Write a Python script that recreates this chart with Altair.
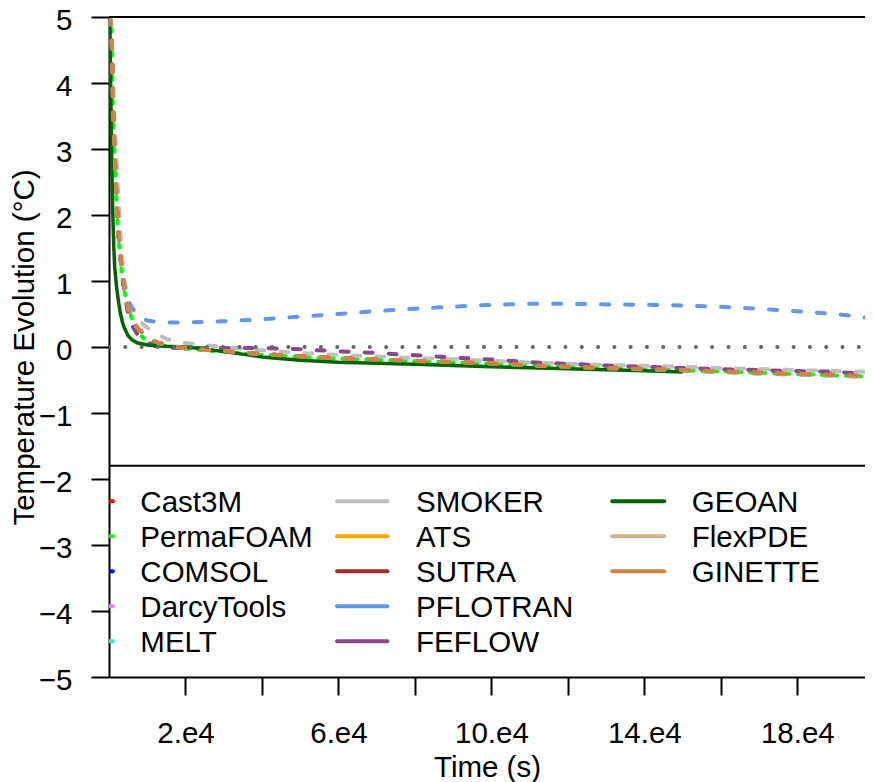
import altair as alt
import pandas as pd

# ---------------- data ----------------
TIME = [0, 250, 500, 750, 1000, 1250, 1500, 2000, 2500, 3000, 3500, 4000,
        5000, 6000, 7500, 10000, 12500, 15000, 20000, 25000, 30000, 40000,
        50000, 60000, 70000, 80000, 90000, 100000, 110000, 120000, 130000,
        140000, 150000, 160000, 170000, 180000, 190000, 200000]

CAST3M = [5.00, 4.98, 4.90, 4.49, 3.77, 3.27, 2.87, 2.19, 1.70, 1.36, 1.10, 0.90,
          0.58, 0.42, 0.28, 0.15, 0.07, 0.03, -0.02, -0.04, -0.06, -0.11,
          -0.14, -0.17, -0.19, -0.21, -0.23, -0.25, -0.28, -0.30, -0.32,
          -0.33, -0.35, -0.37, -0.39, -0.41, -0.42, -0.45]
PERMAFOAM = [5.00, 4.97, 4.88, 4.45, 3.70, 3.20, 2.78, 2.10, 1.62, 1.30, 1.05, 0.85,
             0.60, 0.42, 0.22, 0.08, 0.03, 0.01, -0.02, -0.05, -0.07, -0.12,
             -0.15, -0.175, -0.195, -0.215, -0.235, -0.255, -0.28, -0.30, -0.32,
             -0.34, -0.355, -0.37, -0.39, -0.41, -0.43, -0.45]
COMSOL = [5.00, 4.98, 4.90, 4.50, 3.78, 3.28, 2.88, 2.20, 1.70, 1.36, 1.10, 0.90,
          0.58, 0.42, 0.28, 0.15, 0.07, 0.03, -0.02, -0.04, -0.06, -0.11,
          -0.14, -0.17, -0.19, -0.21, -0.23, -0.25, -0.28, -0.30, -0.32,
          -0.34, -0.35, -0.37, -0.39, -0.41, -0.43, -0.45]
DARCYTOOLS = [5.00, 4.98, 4.90, 4.50, 3.78, 3.28, 2.88, 2.20, 1.70, 1.36, 1.10, 0.90,
              0.58, 0.42, 0.28, 0.15, 0.07, 0.03, -0.02, -0.04, -0.06, -0.11,
              -0.145, -0.175, -0.195, -0.215, -0.235, -0.26, -0.29, -0.31, -0.33,
              -0.34, -0.36, -0.38, -0.40, -0.42, -0.43, -0.46]
MELT = [5.00, 4.98, 4.90, 4.50, 3.78, 3.28, 2.88, 2.20, 1.70, 1.36, 1.10, 0.90,
        0.58, 0.42, 0.28, 0.15, 0.07, 0.03, -0.02, -0.04, -0.06, -0.11,
        -0.145, -0.175, -0.195, -0.215, -0.235, -0.26, -0.29, -0.31, -0.33,
        -0.345, -0.36, -0.38, -0.40, -0.42, -0.435, -0.46]
SMOKER = [5.00, 4.99, 4.95, 4.70, 4.20, 3.70, 3.35, 2.78, 2.25, 1.72, 1.30, 1.02,
          0.72, 0.55, 0.42, 0.29, 0.20, 0.12, 0.06, 0.03, 0.00, -0.05,
          -0.09, -0.12, -0.145, -0.165, -0.185, -0.21, -0.235, -0.255, -0.27,
          -0.285, -0.30, -0.32, -0.335, -0.35, -0.365, -0.38]
ATS = [5.00, 4.98, 4.90, 4.50, 3.78, 3.28, 2.88, 2.20, 1.70, 1.36, 1.10, 0.90,
       0.58, 0.42, 0.28, 0.15, 0.07, 0.03, -0.02, -0.04, -0.06, -0.11,
       -0.14, -0.17, -0.19, -0.21, -0.23, -0.25, -0.28, -0.30, -0.32,
       -0.33, -0.35, -0.37, -0.39, -0.41, -0.42, -0.45]
SUTRA = [5.00, 4.98, 4.90, 4.50, 3.78, 3.28, 2.88, 2.20, 1.70, 1.36, 1.10, 0.90,
         0.58, 0.42, 0.28, 0.15, 0.07, 0.03, -0.02, -0.04, -0.06, -0.11,
         -0.14, -0.17, -0.19, -0.21, -0.23, -0.25, -0.28, -0.30, -0.32,
         -0.33, -0.35, -0.37, -0.39, -0.41, -0.42, -0.45]
PFLOTRAN = [5.00, 4.98, 4.90, 4.50, 3.78, 3.28, 2.88, 2.20, 1.72, 1.38, 1.12, 0.93,
            0.70, 0.60, 0.48, 0.40, 0.38, 0.37, 0.37, 0.38, 0.39, 0.42,
            0.46, 0.50, 0.545, 0.58, 0.61, 0.64, 0.655, 0.655, 0.645,
            0.64, 0.63, 0.61, 0.58, 0.54, 0.50, 0.43]
FEFLOW = [5.00, 4.98, 4.90, 4.50, 3.78, 3.28, 2.88, 2.20, 1.70, 1.34, 1.05, 0.84,
          0.50, 0.33, 0.18, 0.06, 0.01, -0.01, -0.015, -0.015, -0.015, -0.015,
          -0.035, -0.065, -0.09, -0.125, -0.16, -0.19, -0.23, -0.255, -0.28,
          -0.30, -0.32, -0.335, -0.35, -0.365, -0.375, -0.42]
GEOAN_TIME = TIME[:33]
GEOAN = [5.00, 4.80, 3.70, 2.72, 2.00, 1.52, 1.20, 0.90, 0.68, 0.50, 0.38, 0.29,
         0.17, 0.11, 0.06, 0.03, 0.02, 0.01, 0.00, -0.03, -0.07, -0.15,
         -0.20, -0.23, -0.245, -0.26, -0.28, -0.30, -0.315, -0.33, -0.345,
         -0.36, -0.38]
FLEXPDE = [5.00, 4.98, 4.91, 4.52, 3.80, 3.30, 2.90, 2.22, 1.72, 1.37, 1.11, 0.91,
           0.59, 0.42, 0.28, 0.15, 0.07, 0.03, -0.02, -0.04, -0.06, -0.11,
           -0.14, -0.17, -0.19, -0.21, -0.23, -0.25, -0.28, -0.30, -0.32,
           -0.34, -0.35, -0.37, -0.39, -0.41, -0.43, -0.45]
GINETTE = [5.00, 4.98, 4.90, 4.50, 3.78, 3.28, 2.88, 2.20, 1.70, 1.36, 1.10, 0.90,
           0.58, 0.42, 0.28, 0.15, 0.07, 0.03, -0.02, -0.04, -0.06, -0.11,
           -0.14, -0.17, -0.19, -0.21, -0.23, -0.25, -0.28, -0.30, -0.32,
           -0.33, -0.35, -0.37, -0.39, -0.41, -0.42, -0.45]

ZERO_TIME = [0, 200000]
ZERO = [0.0, 0.0]

SERIES = ["Cast3M", "PermaFOAM", "COMSOL", "DarcyTools", "MELT", "SMOKER", "ATS",
          "SUTRA", "PFLOTRAN", "FEFLOW", "GEOAN", "FlexPDE", "GINETTE"]
COLORS = ["#FF0000", "#00FF00", "#0000FF", "#EE82EE", "#40E0D0", "#BEBEBE", "#FFA500",
          "#A52A2A", "#6495ED", "#8B4789", "#006400", "#D2B48C", "#CD853F"]
VALUES = {
    "Cast3M": (TIME, CAST3M), "PermaFOAM": (TIME, PERMAFOAM), "COMSOL": (TIME, COMSOL),
    "DarcyTools": (TIME, DARCYTOOLS), "MELT": (TIME, MELT), "SMOKER": (TIME, SMOKER),
    "ATS": (TIME, ATS), "SUTRA": (TIME, SUTRA), "PFLOTRAN": (TIME, PFLOTRAN),
    "FEFLOW": (TIME, FEFLOW), "GEOAN": (GEOAN_TIME, GEOAN), "FlexPDE": (TIME, FLEXPDE),
    "GINETTE": (TIME, GINETTE),
}
LEGEND_COLUMNS = [["Cast3M", "PermaFOAM", "COMSOL", "DarcyTools", "MELT"],
                  ["SMOKER", "ATS", "SUTRA", "PFLOTRAN", "FEFLOW"],
                  ["GEOAN", "FlexPDE", "GINETTE"]]

# ---------------- styling / layout ----------------
FONT = "Liberation Sans"
FS = 29.5
X_MAX = 197700          # visible part of the time axis (reference is cut at the right edge)
PLOT_W, PLOT_H = 756, 660

x_scale = alt.Scale(domain=[0, X_MAX], nice=False, zero=False)
y_scale = alt.Scale(domain=[-5, 5], nice=False)
color_scale = alt.Scale(domain=SERIES, range=COLORS)

x_axis = alt.Axis(
    values=list(range(20000, 180001, 20000)),
    labelExpr="datum.value % 40000 == 20000 ? format(datum.value / 10000, 'd') + '.e4' : ''",
    tickSize=18, tickWidth=2, domainWidth=2, labelFontSize=FS, labelBaseline="alphabetic",
    labelPadding=47, labelFlush=False, labelOverlap=False, titleFontSize=FS,
    titleFontWeight="normal", titleY=99, titleBaseline="alphabetic", grid=False,
)
y_axis = alt.Axis(
    values=list(range(-5, 6)), format="d", tickSize=18, tickWidth=2, domainWidth=2,
    labelFontSize=FS, labelPadding=19, labelBaseline="alphabetic", labelOffset=12,
    labelFlush=False, labelOverlap=False,
    titleFontSize=FS, titleFontWeight="normal", titleX=-85, titleAngle=270,
    titleBaseline="middle", grid=False,
)

def X():
    return alt.X("t:Q", scale=x_scale, axis=x_axis, title="Time (s)")

def Y():
    return alt.Y("v:Q", scale=y_scale, axis=y_axis, title="Temperature Evolution (°C)")

def C():
    return alt.Color("series:N", scale=color_scale, legend=None)

DASH = {"PermaFOAM": [3, 9]}
layers = []
for s in SERIES:
    ts, vs = VALUES[s]
    df = pd.DataFrame({"t": ts, "v": vs, "series": s})
    if s == "GEOAN":
        mk = alt.Chart(df).mark_line(strokeWidth=3.5, clip=True)
    else:
        mk = alt.Chart(df).mark_line(strokeWidth=4, strokeDash=DASH.get(s, [8, 16]),
                                     strokeCap="round", clip=True)
    layers.append(mk.encode(x=X(), y=Y(), color=C()))

zero_df = pd.DataFrame({"t": ZERO_TIME, "v": ZERO})
layers.append(alt.Chart(zero_df).mark_line(color="#666666", strokeWidth=4,
                                          strokeDash=[0.1, 16.2], strokeCap="round",
                                          clip=True).encode(x=X(), y=Y()))

# frame lines: top border and legend box top
frame_df = pd.DataFrame({"t": [0, 0], "t2": [X_MAX, X_MAX], "v": [5.0, -1.8]})
layers.append(alt.Chart(frame_df).mark_rule(color="black", strokeWidth=2)
              .encode(x=X(), x2="t2:Q", y=Y()))

# legend (laid out in data units of the main scales)
ROW_V0, ROW_DV = -2.339, 0.5303
SEG = [(-13000, 1000), (59650, 72800), (131600, 145200)]
TXT = [8200, 80300, 152400]
leg_rows = []
for ci, col in enumerate(LEGEND_COLUMNS):
    for ri, name in enumerate(col):
        leg_rows.append({"series": name, "t": SEG[ci][0], "t2": SEG[ci][1],
                         "tt": TXT[ci], "v": ROW_V0 - ROW_DV * ri})
leg_df = pd.DataFrame(leg_rows)
layers.append(alt.Chart(leg_df).mark_rule(strokeWidth=4, strokeCap="round", clip=True)
              .encode(x=X(), x2="t2:Q", y=Y(), color=C()))
layers.append(alt.Chart(leg_df).mark_text(align="left", baseline="alphabetic", dy=11,
                                          fontSize=FS, font=FONT, color="black")
              .encode(x=alt.X("tt:Q", scale=x_scale, axis=x_axis, title="Time (s)"),
                      y=Y(), text="series:N"))

chart = alt.layer(*layers).properties(
    width=PLOT_W, height=PLOT_H,
    autosize=alt.AutoSizeParams(type="none"),
    padding={"left": 101, "top": 9, "right": 0, "bottom": 111},
).configure(font=FONT).configure_view(stroke=None).configure_axis(
    domainColor="black", tickColor="black", labelColor="black", titleColor="black",
    labelFont=FONT, titleFont=FONT,
)

chart.save("out.html", embed_options={"renderer": "svg", "actions": False})
